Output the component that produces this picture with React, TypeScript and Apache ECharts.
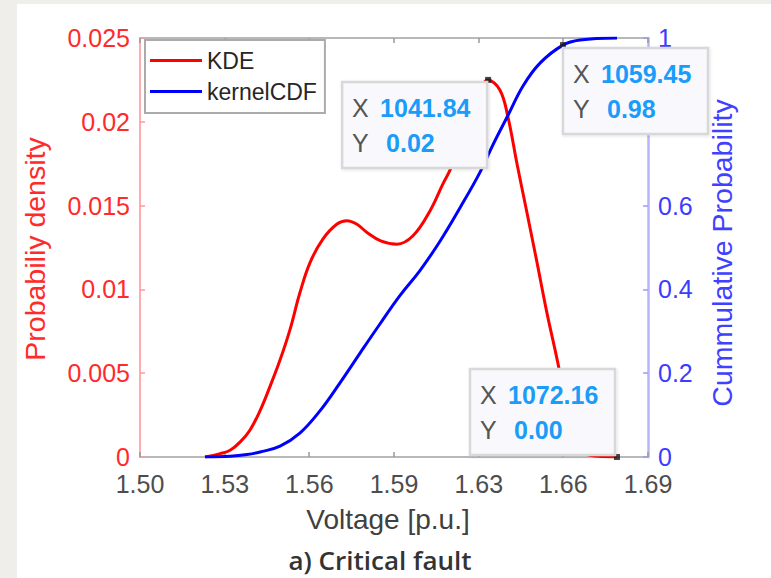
import React, { useEffect, useRef } from "react";
import * as echarts from "echarts";

// ---- data ----
const kdeVoltage = [
  1.5243, 1.53, 1.5337, 1.5375, 1.5411, 1.545, 1.5486, 1.5524, 1.5561, 1.5598,
  1.5636, 1.5684, 1.5737, 1.5774, 1.581, 1.5849, 1.59, 1.5961, 1.6021, 1.6085,
  1.6133, 1.6159, 1.62, 1.625, 1.6302, 1.6346, 1.6376, 1.641, 1.6447, 1.6485,
  1.6522, 1.6563, 1.66, 1.664, 1.6683, 1.6784,
];
const kdeDensity = [
  0, 0.0002, 0.0004, 0.0009, 0.0016, 0.0028, 0.0042, 0.0058, 0.0076, 0.0098,
  0.0116, 0.013, 0.0139, 0.0141, 0.0139, 0.0134, 0.0129, 0.0127, 0.0132, 0.0147,
  0.0163, 0.0171, 0.0187, 0.0207, 0.0225, 0.0219, 0.0203, 0.0175, 0.0146, 0.0116,
  0.0086, 0.0056, 0.0025, 0.0006, 0.0001, 0,
];
const cdfVoltage = [
  1.5243, 1.5337, 1.54, 1.5449, 1.5524, 1.5598, 1.5673, 1.5748, 1.5823, 1.5898,
  1.5972, 1.6047, 1.6122, 1.6197, 1.6272, 1.632, 1.6376, 1.6432, 1.6496, 1.6582,
  1.6646, 1.6784,
];
const cdfProb = [
  0, 0.002, 0.006, 0.012, 0.026, 0.057, 0.11, 0.177, 0.248, 0.318,
  0.385, 0.445, 0.515, 0.595, 0.68, 0.745, 0.815, 0.885, 0.94, 0.983,
  0.995, 1.0,
];
const xTickValues = [1.5, 1.5317, 1.5633, 1.595, 1.6267, 1.6583, 1.69];
const xTickLabels = ["1.50", "1.53", "1.56", "1.59", "1.63", "1.66", "1.69"];

// data tips
const tipVoltage = [1.6302, 1.6582, 1.6784];
const tipValue = [0.0225, 0.983, 0];
const tipAxis = [0, 1, 0];
const tipXText = ["1041.84", "1059.45", "1072.16"];
const tipYText = ["0.02", "0.98", "0.00"];
const tipBoxOffset = [
  [-146, 2],
  [0, 3],
  [-147, -88],
];

const FONT = '"Liberation Sans", Arial, Helvetica, sans-serif';
const W = 771;
const H = 578;

export default function App() {
  const ref = useRef<HTMLDivElement>(null);

  useEffect(() => {
    if (!ref.current) return;
    const chart = echarts.init(ref.current, null, { renderer: "svg" });

    const xLabelFmt = (v: number) => {
      let best = 0;
      for (let i = 1; i < xTickValues.length; i++) {
        if (Math.abs(xTickValues[i] - v) < Math.abs(xTickValues[best] - v)) best = i;
      }
      return xTickLabels[best];
    };

    const option: any = {
      animation: false,
      backgroundColor: "#efeeea",
      grid: { left: 140, top: 38, right: W - 648, bottom: H - 457 },
      legend: {
        data: [
          { name: "KDE", icon: "rect" },
          { name: "kernelCDF", icon: "rect" },
        ],
        orient: "vertical",
        left: 145,
        top: 40,
        itemWidth: 52,
        itemHeight: 3,
        itemGap: 8,
        padding: [9, 8, 10, 5],
        backgroundColor: "#ffffff",
        borderColor: "#ababab",
        borderWidth: 2,
        borderRadius: 0,
        textStyle: { fontSize: 23, color: "#262626", fontFamily: FONT },
        z: 10,
      },
      xAxis: [
        {
          type: "value",
          position: "bottom",
          min: 1.5,
          max: 1.69,
          axisLine: { show: true, lineStyle: { color: "#b8b8b8", width: 2 } },
          axisTick: {
            show: true,
            inside: true,
            length: 5,
            customValues: xTickValues,
            lineStyle: { color: "#9a9a9a", width: 1.5 },
          },
          axisLabel: {
            customValues: xTickValues,
            formatter: xLabelFmt,
            margin: 14,
            fontSize: 25,
            color: "#4d4d4d",
            fontFamily: FONT,
          },
          splitLine: { show: false },
        },
        {
          type: "value",
          position: "top",
          min: 1.5,
          max: 1.69,
          axisLine: { show: true, onZero: false, lineStyle: { color: "#b8b8b8", width: 2 } },
          axisTick: {
            show: true,
            inside: true,
            length: 5,
            customValues: xTickValues,
            lineStyle: { color: "#9a9a9a", width: 1.5 },
          },
          axisLabel: { show: false },
          splitLine: { show: false },
        },
      ],
      yAxis: [
        {
          type: "value",
          position: "left",
          min: 0,
          max: 0.025,
          interval: 0.005,
          axisLine: { show: true, lineStyle: { color: "#ffacac", width: 2 } },
          axisTick: { show: true, inside: true, length: 5, lineStyle: { color: "#ff9a9a", width: 1.5 } },
          axisLabel: { margin: 10, fontSize: 25, lineHeight: 18, color: "#ff2a2a", fontFamily: FONT },
          splitLine: { show: false },
        },
        {
          type: "value",
          position: "right",
          min: 0,
          max: 1,
          interval: 0.2,
          axisLine: { show: true, lineStyle: { color: "#b6b6ff", width: 2.5 } },
          axisTick: { show: true, inside: true, length: 5, lineStyle: { color: "#9a9aff", width: 1.5 } },
          axisLabel: { margin: 10, fontSize: 25, lineHeight: 18, color: "#3c3cff", fontFamily: FONT },
          splitLine: { show: false },
        },
      ],
      series: [
        {
          name: "KDE",
          type: "line",
          xAxisIndex: 0,
          yAxisIndex: 0,
          data: kdeVoltage.map((v, i) => [v, kdeDensity[i]]),
          symbol: "none",
          smooth: 0.4,
          lineStyle: { color: "#ff0000", width: 3 },
          itemStyle: { color: "#ff0000" },
          z: 3,
        },
        {
          name: "kernelCDF",
          type: "line",
          xAxisIndex: 0,
          yAxisIndex: 1,
          data: cdfVoltage.map((v, i) => [v, cdfProb[i]]),
          symbol: "none",
          smooth: 0.4,
          lineStyle: { color: "#0000ff", width: 3 },
          itemStyle: { color: "#0000ff" },
          z: 3,
        },
        {
          name: "tipsLeft",
          type: "scatter",
          xAxisIndex: 0,
          yAxisIndex: 0,
          data: tipVoltage
            .map((v, i) => (tipAxis[i] === 0 ? [v, tipValue[i]] : null))
            .filter((d) => d !== null),
          symbol: "rect",
          symbolSize: 6,
          itemStyle: { color: "#1a1a1a" },
          z: 20,
          silent: true,
        },
        {
          name: "tipsRight",
          type: "scatter",
          xAxisIndex: 0,
          yAxisIndex: 1,
          data: tipVoltage
            .map((v, i) => (tipAxis[i] === 1 ? [v, tipValue[i]] : null))
            .filter((d) => d !== null),
          symbol: "rect",
          symbolSize: 6,
          itemStyle: { color: "#1a1a1a" },
          z: 20,
          silent: true,
        },
      ],
    };

    chart.setOption(option);

    const graphics: any[] = [
      {
        type: "rect",
        z: -100,
        silent: true,
        shape: { x: 17, y: 4, width: W - 17, height: H - 4 },
        style: { fill: "#ffffff" },
      },
      {
        type: "text",
        x: 35,
        y: 249,
        rotation: Math.PI / 2,
        style: {
          text: "Probabiliy density",
          fill: "#ff2a2a",
          fontSize: 28.5,
          fontFamily: FONT,
          align: "center",
          verticalAlign: "middle",
        },
      },
      {
        type: "text",
        x: 722,
        y: 253,
        rotation: Math.PI / 2,
        style: {
          text: "Cummulative Probability",
          fill: "#4040ff",
          fontSize: 28.5,
          fontFamily: FONT,
          align: "center",
          verticalAlign: "middle",
        },
      },
      {
        type: "text",
        x: 388,
        y: 519,
        style: {
          text: "Voltage [p.u.]",
          fill: "#404040",
          fontSize: 28,
          fontFamily: FONT,
          align: "center",
          verticalAlign: "middle",
        },
      },
      {
        type: "text",
        x: 380,
        y: 560,
        style: {
          text: "a) Critical fault",
          fill: "#333333",
          fontSize: 26,
          fontWeight: 600,
          fontFamily: '"Open Sans", "Noto Sans", sans-serif',
          align: "center",
          verticalAlign: "middle",
        },
      },
    ];

    tipVoltage.forEach((v, i) => {
      const p = chart.convertToPixel({ xAxisIndex: 0, yAxisIndex: tipAxis[i] }, [v, tipValue[i]]) as number[];
      const bx = p[0] + tipBoxOffset[i][0];
      const by = p[1] + tipBoxOffset[i][1];
      graphics.push({
        type: "group",
        z: 100,
        children: [
          {
            type: "rect",
            z: 100,
            shape: { x: bx, y: by, width: 145, height: 86 },
            style: {
              fill: "#f9f9fd",
              stroke: "#d8d8d8",
              lineWidth: 2.5,
              shadowBlur: 3,
              shadowColor: "rgba(0,0,0,0.12)",
              shadowOffsetX: 1,
              shadowOffsetY: 1,
            },
          },
          {
            type: "text",
            z: 101,
            x: bx + 10,
            y: by + 26,
            style: { text: "X", fill: "#555555", fontSize: 25, fontFamily: FONT, verticalAlign: "middle" },
          },
          {
            type: "text",
            z: 101,
            x: bx + 38,
            y: by + 26,
            style: {
              text: tipXText[i],
              fill: "#1a9cf8",
              fontSize: 25,
              fontWeight: "bold",
              fontFamily: FONT,
              verticalAlign: "middle",
            },
          },
          {
            type: "text",
            z: 101,
            x: bx + 10,
            y: by + 61,
            style: { text: "Y", fill: "#555555", fontSize: 25, fontFamily: FONT, verticalAlign: "middle" },
          },
          {
            type: "text",
            z: 101,
            x: bx + 44,
            y: by + 61,
            style: {
              text: tipYText[i],
              fill: "#1a9cf8",
              fontSize: 25,
              fontWeight: "bold",
              fontFamily: FONT,
              verticalAlign: "middle",
            },
          },
        ],
      });
    });

    chart.setOption({ graphic: graphics });

    return () => {
      chart.dispose();
    };
  }, []);

  return (
    <div
      ref={ref}
      style={{ position: "fixed", left: 0, top: 0, width: W, height: H }}
    />
  );
}
